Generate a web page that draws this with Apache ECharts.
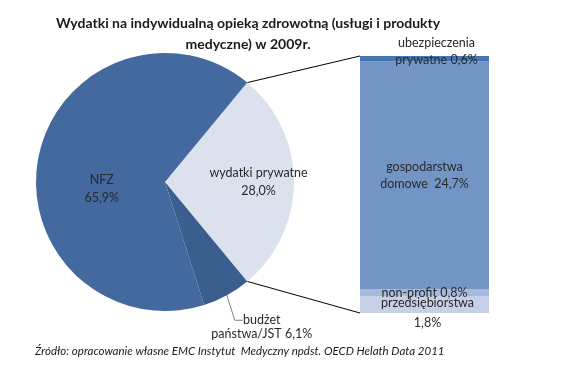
<!DOCTYPE html>
<html>
<head>
<meta charset="utf-8">
<script src="https://cdn.jsdelivr.net/npm/echarts@6/dist/echarts.min.js"></script>
<style>
html,body{margin:0;padding:0;background:#fff;}
#c{width:566px;height:373px;}
</style>
</head>
<body>
<div id="c"></div>
<script>
// ---- data ----
const titleLines = ['Wydatki na indywidualną opieką zdrowotną (usługi i produkty', 'medyczne) w 2009r.'];
const sourceText = 'Źródło: opracowanie własne EMC Instytut  Medyczny npdst. OECD Helath Data 2011';
const pieNames = ['wydatki prywatne', 'budżet państwa/JST', 'NFZ'];
const pieValues = [28.0, 6.1, 65.9];
const pieLabels = ['wydatki prywatne\n28,0%', 'budżet\npaństwa/JST 6,1%', 'NFZ\n65,9%'];
const barNames = ['przedsiębiorstwa', 'non-profit', 'gospodarstwa domowe', 'ubezpieczenia prywatne'];
const barValues = [1.8, 0.8, 24.7, 0.6];
const barLabels = ['przedsiębiorstwa\n1,8%', 'non-profit 0,8%', 'gospodarstwa\ndomowe  24,7%', 'ubezpieczenia\nprywatne 0,6%'];

// ---- styles ----
const FONT = 'Lato, "Open Sans", sans-serif';
const pieColors = ['#DCE1EE', '#3A5F8F', '#43699E'];
const barColors = ['#C6D0E7', '#A6B9DB', '#7295C6', '#4777B3'];
const pieCenter = [165, 182];
const pieRadius = 129;
const total = pieValues.reduce((a, b) => a + b, 0);
const startAngle = pieValues[0] / total * 360 / 2;
const barTotal = barValues.reduce((a, b) => a + b, 0);

const pieLabelShift = [[13, 0], [0, 0], [1.5, 10]];
const barLabelShift = [[3, 8], [0, 0], [0, 0], [12, -7]];

const chart = echarts.init(document.getElementById('c'), null, {renderer: 'canvas'});

function polar(angleDeg, r) {
  const a = angleDeg * Math.PI / 180;
  return [pieCenter[0] + r * Math.cos(a), pieCenter[1] - r * Math.sin(a)];
}

const barSeries = barValues.map((v, i) => ({
  type: 'bar',
  name: barNames[i],
  stack: 's',
  data: [v],
  barWidth: '100%',
  itemStyle: {color: barColors[i]},
  label: {
    show: true,
    position: 'inside',
    formatter: barLabels[i],
    color: '#2a2a2a',
    fontFamily: FONT,
    fontSize: 12.5,
    lineHeight: i === 0 ? 20 : 17,
    offset: barLabelShift[i]
  },
  emphasis: {disabled: true},
  silent: true,
  animation: false
}));

chart.setOption({
  animation: false,
  title: {
    text: titleLines.join('\n'),
    left: 243,
    textAlign: 'center',
    top: 8,
    textStyle: {fontFamily: FONT, fontWeight: 'bold', fontSize: 14, color: '#1a1a1a', lineHeight: 21}
  },
  grid: {left: 360, top: 56, width: 129, height: 257, containLabel: false},
  xAxis: {type: 'category', data: [''], show: false, boundaryGap: true},
  yAxis: {type: 'value', min: 0, max: barTotal, show: false},
  series: [
    {
      type: 'pie',
      center: pieCenter,
      radius: pieRadius,
      startAngle: startAngle,
      clockwise: true,
      silent: true,
      animation: false,
      data: pieValues.map((v, i) => ({
        value: v,
        name: pieNames[i],
        itemStyle: {color: pieColors[i]},
        label: i === 1 ? {
          show: true, position: 'outside', formatter: pieLabels[i], align: 'center',
          color: '#2a2a2a', fontFamily: FONT, fontSize: 12.5, lineHeight: 14
        } : {
          show: true, position: 'inside', formatter: pieLabels[i],
          color: '#2a2a2a', fontFamily: FONT, fontSize: 12.5, lineHeight: 18
        },
        labelLine: i === 1 ? {show: true, length: 20, length2: 6, lineStyle: {color: '#7f7f7f', width: 1}} : {show: false}
      })),
      labelLayout: function (p) {
        if (p.dataIndex === 1) {
          const mid = -startAngle - pieValues[1] / total * 360 / 2;
          const e = polar(mid, pieRadius);
          return {
            x: e[0] + 35, y: e[1] + 32, align: 'center', verticalAlign: 'middle',
            labelLinePoints: [e, [e[0] + 8, e[1] + 25], [e[0] + 16, e[1] + 25]]
          };
        }
        const s = pieLabelShift[p.dataIndex];
        return {dx: s[0], dy: s[1]};
      }
    }
  ].concat(barSeries)
});

// connector lines from pie split points to the bar corners
const topPt = polar(startAngle, pieRadius);
const botPt = polar(-startAngle, pieRadius);
const barTop = chart.convertToPixel({gridIndex: 0}, [0, barTotal]);
const barBot = chart.convertToPixel({gridIndex: 0}, [0, 0]);
const barLeft = barTop[0] - 129 / 2;
chart.setOption({
  graphic: [
    {type: 'line', shape: {x1: topPt[0], y1: topPt[1], x2: barLeft, y2: barTop[1]}, style: {stroke: '#000', lineWidth: 1}, silent: true},
    {type: 'line', shape: {x1: botPt[0], y1: botPt[1], x2: barLeft, y2: barBot[1]}, style: {stroke: '#000', lineWidth: 1}, silent: true},
    {type: 'text', left: 35, top: 345, style: {text: sourceText, font: 'italic 11.5px ' + FONT, fill: '#1a1a1a'}, silent: true}
  ]
});
</script>
</body>
</html>
